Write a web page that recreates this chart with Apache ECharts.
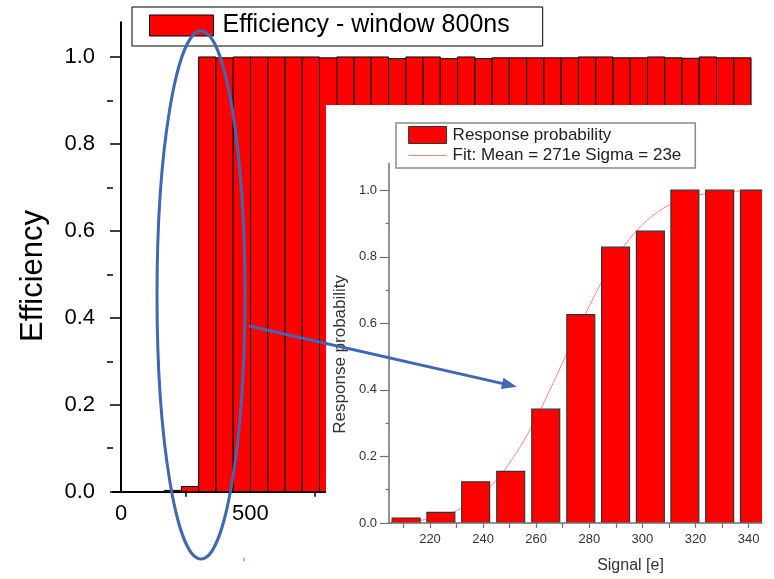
<!DOCTYPE html>
<html><head><meta charset="utf-8">
<script src="https://cdn.jsdelivr.net/npm/echarts@6/dist/echarts.min.js"></script>
<style>html,body{margin:0;padding:0;background:#fff;} #c{width:774px;height:579px;}</style>
</head><body><div id="c"></div>
<script>
// ---- main chart data: efficiency vs threshold (window 800ns) ----
const effBinCenters = [200, 266.7, 333.3, 400, 466.7, 533.3, 600, 666.7, 733.3, 800, 866.7, 933.3,
  1000, 1066.7, 1133.3, 1200, 1266.7, 1333.3, 1400, 1466.7, 1533.3, 1600, 1666.7, 1733.3,
  1800, 1866.7, 1933.3, 2000, 2066.7, 2133.3, 2200, 2266.7, 2333.3, 2400];
const effValues = [0.003, 0.012,
  1.0, 0.998, 1.0, 1.0, 1.0, 1.0, 1.0, 0.998, 1.0, 1.0, 1.0, 0.996, 1.0, 1.0, 0.996, 1.0,
  0.996, 0.998, 0.998, 0.998, 0.998, 0.998, 1.0, 1.0, 0.998, 0.998, 1.0, 0.998, 0.997, 1.0, 0.998, 0.998];
const effBinWidth = 66.67;
const effXLabels = [0, 500];
const effXTicks = [250, 750];
const effYLabels = [0, 0.2, 0.4, 0.6, 0.8, 1.0];
const effYMinor = [0.1, 0.3, 0.5, 0.7, 0.9];

// ---- inset data: response probability vs signal ----
const sigBinCenters = [211.0, 224.1, 237.2, 250.4, 263.6, 276.8, 289.9, 303.0, 316.0, 329.1, 342.2];
const sigValues = [0.015, 0.032, 0.124, 0.155, 0.342, 0.626, 0.829, 0.877, 1.0, 1.0, 1.0];
const sigBinWidth = 13.15;
const fitX = [205, 210, 215, 220, 225, 230, 235, 240, 245, 250, 255, 260, 265, 270, 275,
  280, 285, 290, 295, 300, 305, 310, 315, 320, 325, 330, 335, 340, 345, 350];
const fitY = [0.002, 0.004, 0.007, 0.013, 0.023, 0.037, 0.059, 0.089, 0.129, 0.181, 0.243, 0.316, 0.397, 0.483, 0.569,
  0.652, 0.729, 0.796, 0.852, 0.896, 0.930, 0.955, 0.972, 0.983, 0.991, 0.995, 0.997, 0.999, 0.999, 1.0];
const sigXLabels = [220, 240, 260, 280, 300, 320, 340];
const sigXTicks = [210, 220, 230, 240, 250, 260, 270, 280, 290, 300, 310, 320, 330, 340];
const sigYLabels = [0, 0.2, 0.4, 0.6, 0.8, 1.0];
const sigYMinor = [0.1, 0.3, 0.5, 0.7, 0.9];

const FONT = "'Liberation Sans', Arial, sans-serif";
const FIT_COLOR = '#ff8080';
const mainName = 'Efficiency - window 800ns';
const respName = 'Response probability';
const fitName = 'Fit: Mean = 271e Sigma = 23e';

function barRenderer(stroke, lw, frac, binW) {
  return function (params, api) {
    const c = api.value(0), v = api.value(1);
    const half = binW * frac / 2;
    const a = api.coord([c - half, v]);
    const b = api.coord([c + half, 0]);
    return {
      type: 'rect',
      shape: { x: a[0], y: a[1], width: b[0] - a[0], height: b[1] - a[1] },
      style: { fill: '#ff0000', stroke: stroke, lineWidth: lw }
    };
  };
}

const chart = echarts.init(document.getElementById('c'), null, { renderer: 'canvas' });
chart.setOption({
  animation: false,
  backgroundColor: '#fff',
  textStyle: { fontFamily: FONT },
  grid: [
    { left: 113, top: 22.2, width: 647.25, height: 469.5 },
    { left: 389, top: 163.6, width: 373, height: 360.4 }
  ],
  legend: [
    {
      data: [{ name: mainName, icon: 'rect', itemStyle: { color: '#ff0000', borderColor: '#000', borderWidth: 1 } }],
      left: 132, top: 7, padding: [6, 33, 8, 17],
      itemWidth: 64, itemHeight: 21,
      borderColor: '#000', borderWidth: 1, backgroundColor: '#fff',
      selectedMode: false,
      textStyle: { fontSize: 25, color: '#000', fontFamily: FONT, padding: [0, 0, 0, 4] }
    },
    {
      data: [
        { name: respName, icon: 'rect', itemStyle: { color: '#ff0000', borderColor: '#333', borderWidth: 1 } },
        { name: fitName, itemStyle: { color: 'rgba(255,255,255,0)', borderWidth: 0 } }
      ],
      lineStyle: { color: FIT_COLOR, width: 1.2, opacity: 1 },
      orient: 'vertical', left: 396, top: 123, padding: [3, 14, 4, 12],
      itemGap: 3, itemWidth: 38, itemHeight: 17,
      borderColor: '#8a8a8a', borderWidth: 1.5, backgroundColor: '#fff',
      selectedMode: false, z: 30,
      textStyle: { fontSize: 17, color: '#222', fontFamily: FONT, padding: [0, 0, 0, 1] }
    }
  ],
  xAxis: [
    {
      type: 'value', gridIndex: 0, position: 'bottom', min: -31, max: 2469,
      axisLine: { show: true, lineStyle: { color: '#000', width: 2 } },
      axisTick: { show: true, customValues: effXTicks, length: 5, lineStyle: { color: '#000', width: 1.5 } },
      axisLabel: { customValues: effXLabels, fontSize: 22, color: '#000', margin: 11, fontFamily: FONT },
      splitLine: { show: false }
    },
    {
      type: 'value', gridIndex: 1, position: 'bottom', min: 204.56, max: 345.05, z: 20,
      axisLine: { show: true, lineStyle: { color: '#707070', width: 1.5 } },
      axisTick: { show: true, customValues: sigXTicks, length: 5, lineStyle: { color: '#707070', width: 1.2 } },
      axisLabel: { customValues: sigXLabels, fontSize: 13, color: '#333', margin: 10, fontFamily: FONT },
      splitLine: { show: false },
      name: 'Signal [e]', nameLocation: 'middle', nameGap: 35,
      nameTextStyle: { fontSize: 16, color: '#333', fontFamily: FONT, padding: [0, 0, 0, 110] }
    }
  ],
  yAxis: [
    {
      type: 'value', gridIndex: 0, position: 'left', min: 0, max: 1.08,
      axisLine: { show: true, lineStyle: { color: '#000', width: 2 } },
      axisTick: { show: true, customValues: effYLabels, length: 11, lineStyle: { color: '#000', width: 1.5 } },
      axisLabel: { customValues: effYLabels, formatter: v => v.toFixed(1), fontSize: 22, color: '#000', margin: 18, fontFamily: FONT },
      splitLine: { show: false },
      name: 'Efficiency', nameLocation: 'middle', nameGap: 64,
      nameTextStyle: { fontSize: 31, color: '#000', fontFamily: FONT, padding: [0, 38, 0, 0] }
    },
    {
      type: 'value', gridIndex: 0, position: 'left', min: 0, max: 1.08,
      axisLine: { show: false },
      axisTick: { show: true, customValues: effYMinor, length: 6, lineStyle: { color: '#000', width: 1.5 } },
      axisLabel: { show: false },
      splitLine: { show: false }
    },
    {
      type: 'value', gridIndex: 1, position: 'left', min: 0, max: 1.08, z: 20,
      axisLine: { show: true, lineStyle: { color: '#707070', width: 1.5 } },
      axisTick: { show: true, customValues: sigYLabels, length: 9, lineStyle: { color: '#707070', width: 1.2 } },
      axisLabel: { customValues: sigYLabels, formatter: v => v.toFixed(1), fontSize: 13, color: '#333', margin: 12, fontFamily: FONT },
      splitLine: { show: false },
      name: 'Response probability', nameLocation: 'middle', nameGap: 40,
      nameTextStyle: { fontSize: 17, color: '#333', fontFamily: FONT, padding: [0, 22, 0, 0] }
    },
    {
      type: 'value', gridIndex: 1, position: 'left', min: 0, max: 1.08, z: 20,
      axisLine: { show: false },
      axisTick: { show: true, customValues: sigYMinor, length: 3.5, lineStyle: { color: '#707070', width: 1.2 } },
      axisLabel: { show: false },
      splitLine: { show: false }
    }
  ],
  series: [
    {
      name: mainName, type: 'custom', xAxisIndex: 0, yAxisIndex: 0, clip: true,
      itemStyle: { color: '#ff0000' },
      renderItem: barRenderer('#000', 1, 1, effBinWidth),
      encode: { x: 0, y: 1 },
      data: effBinCenters.map((c, i) => [c, effValues[i]])
    },
    {
      name: fitName, type: 'line', xAxisIndex: 1, yAxisIndex: 2, z: 15, clip: true,
      symbol: 'none', smooth: true,
      lineStyle: { color: FIT_COLOR, width: 1 },
      itemStyle: { color: FIT_COLOR },
      data: fitX.map((x, i) => [x, fitY[i]])
    },
    {
      name: respName, type: 'custom', xAxisIndex: 1, yAxisIndex: 2, z: 20, clip: true,
      itemStyle: { color: '#ff0000' },
      renderItem: barRenderer('#333', 1.2, 0.8, sigBinWidth),
      encode: { x: 0, y: 1 },
      data: sigBinCenters.map((c, i) => [c, sigValues[i]])
    }
  ],
  graphic: {
    elements: [
      { type: 'rect', z: 10, shape: { x: 326, y: 105, width: 448, height: 474 }, style: { fill: '#fff' } },
      { type: 'ellipse', z: 100, shape: { cx: 201, cy: 295, rx: 44, ry: 264 }, style: { fill: 'none', stroke: '#4067b0', lineWidth: 3 } },
      { type: 'line', z: 100, shape: { x1: 249, y1: 326, x2: 503, y2: 383.6 }, style: { stroke: '#4067b0', lineWidth: 3 } },
      { type: 'polygon', z: 100, shape: { points: [[516.7, 386.7], [500.9, 389.0], [503.5, 377.8]] }, style: { fill: '#4067b0' } },
      { type: 'line', z: 100, shape: { x1: 244, y1: 557.5, x2: 244, y2: 561.5 }, style: { stroke: '#93aad6', lineWidth: 1.5 } }
    ]
  }
});
</script>
</body></html>
